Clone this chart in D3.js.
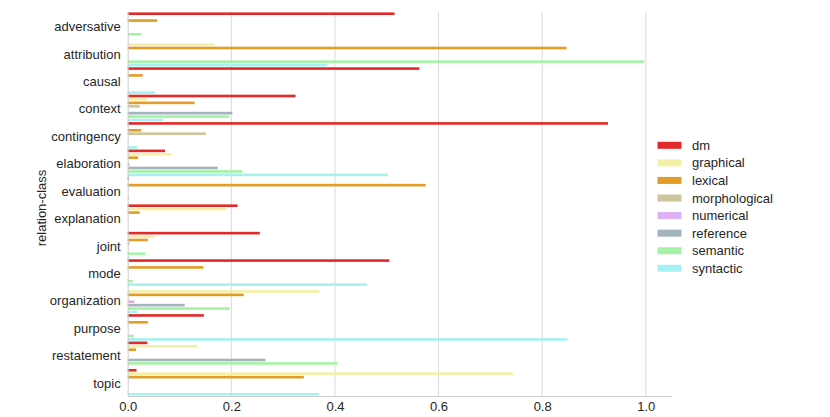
<!DOCTYPE html>
<html><head><meta charset="utf-8">
<script src="https://cdn.jsdelivr.net/npm/d3@7"></script>
<style>body{margin:0;background:#fff;} text{font-family:"Liberation Sans",Arial,sans-serif;}</style>
</head><body><svg id="c" width="830" height="417"></svg>
<script>
const categories = ["adversative","attribution","causal","context","contingency","elaboration","evaluation","explanation","joint","mode","organization","purpose","restatement","topic"];
const seriesNames = ["dm","graphical","lexical","morphological","numerical","reference","semantic","syntactic"];
const colors = ["#e32a2a","#f5f0a8","#e39d27","#ccc69a","#ddb0f5","#a3b4bf","#a6f2a6","#a6f2f2"];
const dm =            [0.515,0,    0.563,0.324,0.927,0.072,0.002,0.212,0.255,0.505,0,    0.147,0.038,0.017];
const graphical =     [0,    0.168,0,    0.037,0,    0.084,0,    0.190,0.052,0,    0.370,0,    0.134,0.744];
const lexical =       [0.057,0.847,0.029,0.129,0.026,0.020,0.575,0.023,0.039,0.146,0.224,0.039,0.016,0.340];
const morphological = [0,    0,    0,    0.023,0.151,0,    0,    0,    0.004,0,    0,    0,    0,    0];
const numerical =     [0,    0,    0,    0,    0,    0.004,0,    0,    0,    0,    0.013,0,    0,    0];
const reference =     [0,    0,    0,    0.202,0,    0.174,0,    0,    0,    0,    0.110,0,    0.266,0];
const semantic =      [0.027,0.997,0,    0.196,0,    0.221,0.003,0,    0.034,0.010,0.197,0.012,0.405,0];
const syntactic =     [0,    0.385,0.053,0.068,0.018,0.502,0,    0,    0.003,0.462,0.019,0.849,0,    0.369];
const xTicks = [0,0.2,0.4,0.6,0.8,1.0];
const seriesData = [dm,graphical,lexical,morphological,numerical,reference,semantic,syntactic];

const svg = d3.select("#c");
const x = d3.scaleLinear().domain([0,1.05]).range([127.7,671.7]);
const y = d3.scaleBand().domain(categories).range([12,396]).padding(0);
const ys = d3.scaleBand().domain(seriesNames).range([0,y.bandwidth()]).padding(0);

// gridlines
svg.append("g").selectAll("line").data(xTicks.slice(1)).join("line")
  .attr("x1",d=>x(d)).attr("x2",d=>x(d)).attr("y1",12).attr("y2",396)
  .attr("stroke","#d9d9d9").attr("stroke-width",1);

// bars
const g = svg.append("g");
categories.forEach((c,ci)=>{
  seriesNames.forEach((s,si)=>{
    const v = seriesData[si][ci];
    if (v<=0) return;
    g.append("rect")
      .attr("x",x(0)).attr("y",y(c)+ys(s)+0.4)
      .attr("width",x(v)-x(0)).attr("height",ys.bandwidth()-0.8)
      .attr("fill",colors[si]);
  });
});

// axes
const xa = svg.append("g").attr("transform","translate(0,396)")
  .call(d3.axisBottom(x).tickValues(xTicks).tickFormat(d3.format(".1f")).tickSize(0).tickPadding(6));
xa.select(".domain").attr("stroke","#cccccc");
xa.selectAll("text").attr("font-size",13).attr("fill","#262626");

const ya = svg.append("g").attr("transform","translate(127.7,0)")
  .call(d3.axisLeft(y).tickSize(0).tickPadding(7));
ya.select(".domain").attr("stroke","#cccccc");
ya.selectAll("text").attr("font-size",13).attr("fill","#262626").attr("dy","0.42em");

svg.append("text").attr("transform","translate(46,208) rotate(-90)")
  .attr("text-anchor","middle").attr("font-size",13).attr("fill","#262626").text("relation-class");

// legend
const lg = svg.append("g");
seriesNames.forEach((s,i)=>{
  const yy = 145.3 + i*17.57;
  lg.append("rect").attr("x",657.5).attr("y",yy-3.5).attr("width",24).attr("height",7).attr("fill",colors[i]);
  lg.append("text").attr("x",692).attr("y",yy).attr("dy","0.35em").attr("font-size",13).attr("fill","#262626").text(s);
});
</script></body></html>
